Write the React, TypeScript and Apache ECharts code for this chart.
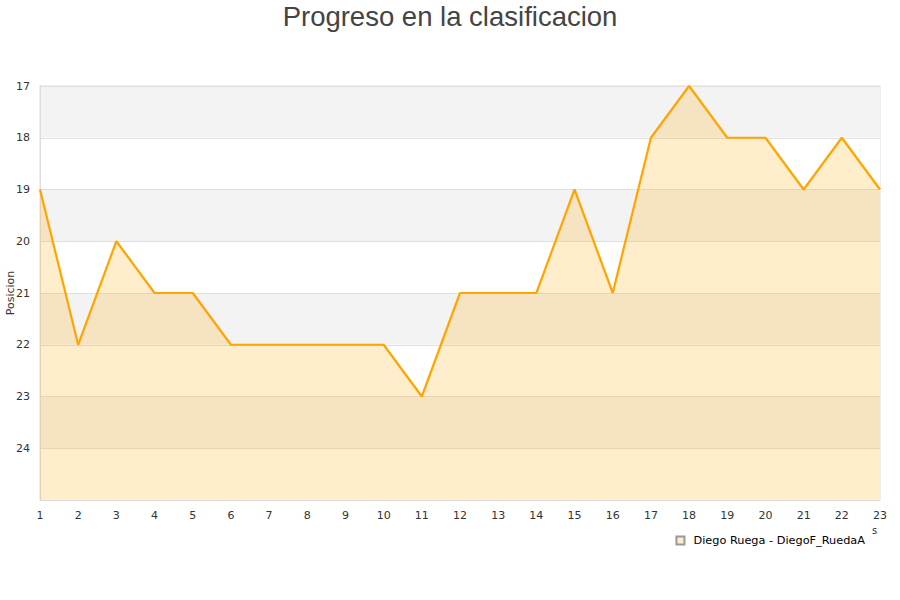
import React, { useEffect, useRef } from "react";
import * as echarts from "echarts";

const jornadas = ["1","2","3","4","5","6","7","8","9","10","11","12","13","14","15","16","17","18","19","20","21","22","23"];
const posiciones = [19,22,20,21,21,22,22,22,22,22,23,21,21,21,19,21,18,17,18,18,19,18,19];
const seriesName = "Diego Ruega - DiegoF_RuedaA";
const titleText = "Progreso en la clasificacion";
const yName = "Posicion";

export default function App() {
  const ref = useRef<HTMLDivElement>(null);
  useEffect(() => {
    if (!ref.current) return;
    const chart = echarts.init(ref.current, undefined, { renderer: "svg" });
    chart.setOption({
      animation: false,
      backgroundColor: "#ffffff",
      title: {
        text: titleText,
        left: "center",
        top: -3,
        textStyle: { fontFamily: "Liberation Sans", fontSize: 27.5, fontWeight: "normal", color: "#444444" },
      },
      grid: { left: 40, right: 20, top: 86, bottom: 100, outerBoundsMode: "none", containLabel: false, show: true, borderColor: "#dddddd", borderWidth: 1, backgroundColor: "transparent" },
      legend: {
        data: [seriesName],
        right: 30,
        top: 530,
        icon: "rect",
        itemWidth: 8,
        itemHeight: 8,
        itemGap: 10,
        textStyle: { fontFamily: "DejaVu Sans", fontSize: 11.3, color: "#000000", padding: [0, 0, 0, 4] },
      },
      xAxis: {
        type: "category",
        data: jornadas,
        boundaryGap: false,
        axisLine: { lineStyle: { color: "#dddddd" } },
        axisTick: { show: false },
        axisLabel: { color: "#333333", fontFamily: "DejaVu Sans", fontSize: 11, margin: 10 },
        splitLine: { show: false },
      },
      yAxis: {
        type: "value",
        inverse: true,
        min: 17,
        max: 25,
        interval: 1,
        axisLine: { show: true, lineStyle: { color: "#dddddd" } },
        axisTick: { show: false },
        axisLabel: {
          color: "#333333",
          fontFamily: "DejaVu Sans",
          fontSize: 11,
          margin: 10,
          formatter: (v: number) => (v === 25 ? "" : String(v)),
        },
        splitLine: { show: true, lineStyle: { color: "#e0e0e0" } },
        splitArea: { show: true, areaStyle: { color: ["#f3f3f3", "#ffffff"] } },
      },
      graphic: [
        {
          type: "text",
          x: 10,
          y: 293,
          rotation: Math.PI / 2,
          style: { text: yName, fontFamily: "DejaVu Sans", fontSize: 11, fill: "#333333", align: "center", verticalAlign: "middle" },
        },
        {
          type: "text",
          left: 872,
          top: 525,
          style: { text: "s", fontFamily: "DejaVu Sans", fontSize: 10, fill: "#333333" },
        },
      ],
      series: [
        {
          name: seriesName,
          type: "line",
          data: posiciones,
          symbol: "none",
          showSymbol: false,
          lineStyle: { color: "#ffa500", width: 2.2 },
          itemStyle: { color: "#ffedcc", borderColor: "#999999", borderWidth: 1 },
          areaStyle: { color: "#ffa500", opacity: 0.2, origin: "end" },
        },
      ],
    });
    return () => chart.dispose();
  }, []);
  return <div ref={ref} style={{ position: "fixed", left: 0, top: 0, width: 900, height: 600 }} />;
}
